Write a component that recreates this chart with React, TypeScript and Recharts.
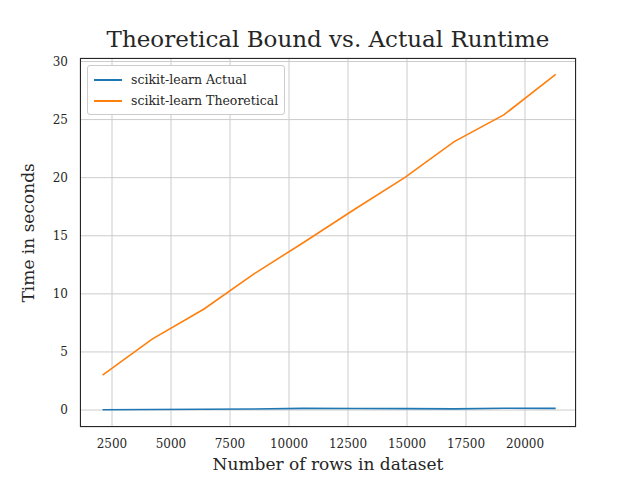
import { CartesianGrid, Line, LineChart, XAxis, YAxis } from "recharts";

const rows = [2100, 4200, 6400, 8500, 10600, 12800, 14900, 17000, 19100, 21300];
const actual = [0.03, 0.05, 0.07, 0.09, 0.14, 0.13, 0.12, 0.1, 0.16, 0.14];
const theoretical = [3.0, 6.1, 8.7, 11.7, 14.4, 17.3, 20.0, 23.1, 25.4, 28.9];
const xTicks = [2500, 5000, 7500, 10000, 12500, 15000, 17500, 20000];
const yTicks = [0, 5, 10, 15, 20, 25, 30];

const data = rows.map((r, i) => ({ rows: r, actual: actual[i], theoretical: theoretical[i] }));

const font = "'DejaVu Serif', serif";
const tick = { fill: "#262626", fontSize: 12, fontFamily: font };

function LegendBox() {
  const items = [
    { label: "scikit-learn Actual", color: "#1f77b4" },
    { label: "scikit-learn Theoretical", color: "#ff7f0e" },
  ];
  return (
    <div style={{ position: "absolute", left: 87, top: 65, background: "#fff", border: "1px solid #ccc", borderRadius: 3, padding: "3px 6px", fontFamily: font, fontSize: 12.5, color: "#262626" }}>
      {items.map((it) => (
        <div key={it.label} style={{ display: "flex", alignItems: "center", height: 21 }}>
          <span style={{ width: 28, height: 2, background: it.color, marginRight: 9 }} />
          {it.label}
        </div>
      ))}
    </div>
  );
}

export default function App() {
  return (
    <div style={{ position: "relative", width: 640, height: 480, margin: -8, background: "#fff" }}>
      <div style={{ position: "absolute", top: 26, width: 656, textAlign: "center", fontFamily: font, fontSize: 23, color: "#262626" }}>
        Theoretical Bound vs. Actual Runtime
      </div>
      <LineChart width={640} height={480} data={data} margin={{ top: 58, right: 64, bottom: 0, left: 0 }}>
        <CartesianGrid xAxisId="b" yAxisId="l" stroke="#cccccc" strokeWidth={1} vertical horizontal />
        <XAxis xAxisId="b" dataKey="rows" type="number" domain={[1144, 22161]} ticks={xTicks} height={53}
          tick={tick} tickLine={false} axisLine={false} interval={0} tickMargin={6}
          label={{ value: "Number of rows in dataset", position: "insideBottom", offset: 10, fill: "#262626", fontSize: 17, fontFamily: font }} />
        <YAxis yAxisId="l" type="number" domain={[-1.46, 30.3]} ticks={yTicks} width={80} tick={tick} tickLine={false}
          axisLine={false} interval={0} tickMargin={6}
          label={{ value: "Time in seconds", angle: -90, position: "insideLeft", offset: 28, dy: 60, fill: "#262626", fontSize: 17, fontFamily: font }} />
        <Line xAxisId="b" yAxisId="l" dataKey="actual" stroke="#1f77b4" strokeWidth={1.6} dot={false} isAnimationActive={false} />
        <Line xAxisId="b" yAxisId="l" dataKey="theoretical" stroke="#ff7f0e" strokeWidth={1.6} dot={false} isAnimationActive={false} />
      </LineChart>
      <div style={{ position: "absolute", left: 80, top: 58, width: 496, height: 369, boxSizing: "border-box", border: "1px solid #262626", pointerEvents: "none" }} />
      <LegendBox />
    </div>
  );
}
